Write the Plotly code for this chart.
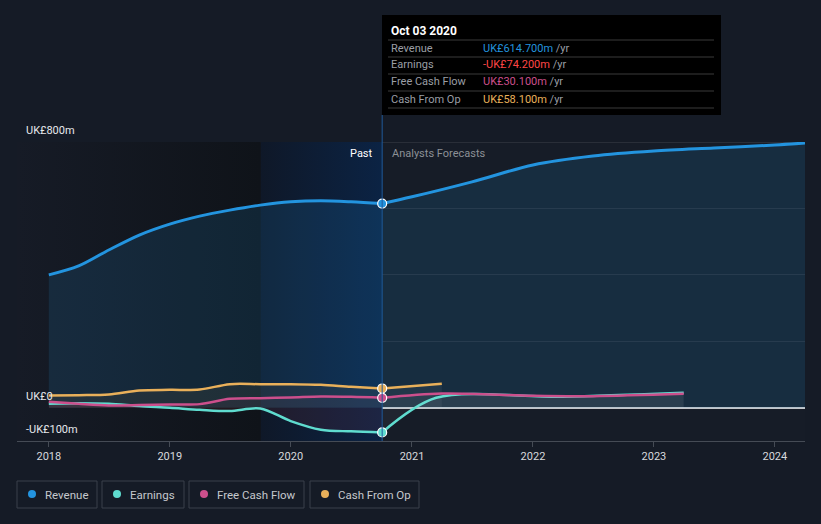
import plotly.graph_objects as go

# ---------------- data ----------------
rev_past_dates = ["2018-01-01", "2018-04-01", "2018-07-01", "2018-10-01", "2019-01-01", "2019-04-01",
                  "2019-07-01", "2019-10-01", "2020-01-01", "2020-04-01", "2020-07-01", "2020-10-03"]
rev_past = [400, 427, 475, 520, 553, 577, 595, 610, 620, 623, 620, 614.7]
rev_fc_dates = ["2020-10-03", "2021-01-01", "2021-07-01", "2022-01-01", "2022-07-01", "2023-01-01",
                "2023-07-01", "2024-01-01", "2024-04-01"]
rev_fc = [614.7, 635, 680, 731, 758, 773, 782, 791, 797]

earn_past_dates = rev_past_dates
earn_past = [12, 14, 12, 5, 0, -6, -10, -2, -40, -66, -71, -74.2]
earn_fc_dates = ["2020-10-03", "2021-03-15", "2022-04-01", "2023-04-01"]
earn_fc = [-74.2, 30, 33, 45]

fcf_past_dates = rev_past_dates
fcf_past = [18, 12, 7, 8, 10, 11, 27, 29, 31, 34, 33, 30.1]
fcf_fc_dates = ["2020-10-03", "2021-04-01", "2022-01-01", "2022-07-01", "2023-04-01"]
fcf_fc = [30.1, 43, 36, 35, 42]

cfo_past_dates = rev_past_dates
cfo_past = [37, 38, 40, 52, 54, 55, 71, 71, 71, 69, 63, 58.1]
cfo_fc_dates = ["2020-10-03", "2021-04-01"]
cfo_fc = [58.1, 72]

hover_date = "2020-10-03"
tooltip_title = "Oct 03 2020"
tooltip_rows = [("Revenue", "UK£614.700m"), ("Earnings", "-UK£74.200m"),
                ("Free Cash Flow", "UK£30.100m"), ("Cash From Op", "UK£58.100m")]
legend_names = ["Revenue", "Earnings", "Free Cash Flow", "Cash From Op"]
y_labels = [(800, "UK£800m"), (0, "UK£0"), (-100, "-UK£100m")]
year_ticks = ["2018-01-01", "2019-01-01", "2020-01-01", "2021-01-01", "2022-01-01", "2023-01-01", "2024-01-01"]
year_labels = ["2018", "2019", "2020", "2021", "2022", "2023", "2024"]

# ---------------- style ----------------
BG = "#151b26"
C_REV = "#2394df"
C_EARN = "#5fdccf"
C_FCF = "#cc4f8c"
C_CFO = "#e9b05a"
C_EARN_TXT = "#ff4646"
FONT = "Roboto"

X0, X1 = "2017-09-27", "2024-04-01"
Y0, Y1 = -100, 800

# pixel -> paper helpers for decorations
PL, PR, PT, PB = 17, 805, 142, 441
def px(x):
    return (x - PL) / (PR - PL)
def py(y):
    return (PB - y) / (PB - PT)

fig = go.Figure()

# background regions (gradients)
fig.add_trace(go.Scatter(x=[X0, "2019-10-03", "2019-10-03", X0, X0], y=[Y0, Y0, Y1, Y1, Y0],
                         fill="toself", mode="none", hoverinfo="skip", showlegend=False,
                         fillgradient=dict(type="horizontal", colorscale=[[0, "#161b26"], [1, "#0f1319"]])))
fig.add_trace(go.Scatter(x=["2019-10-03", hover_date, hover_date, "2019-10-03", "2019-10-03"],
                         y=[Y0, Y0, Y1, Y1, Y0],
                         fill="toself", mode="none", hoverinfo="skip", showlegend=False,
                         fillgradient=dict(type="horizontal", colorscale=[[0, "#0f1828"], [1, "#0b2344"]])))

def line(x, y, color, fillcolor, width=2.5):
    fig.add_trace(go.Scatter(x=x, y=y, mode="lines", line=dict(color=color, width=width, shape="spline", smoothing=0.9),
                             fill="tozeroy", fillcolor=fillcolor, hoverinfo="skip", showlegend=False))

line(rev_past_dates, rev_past, C_REV, "rgba(35,148,223,0.14)", 3)
line(rev_fc_dates, rev_fc, C_REV, "rgba(35,148,223,0.14)", 3)
line(cfo_past_dates, cfo_past, C_CFO, "rgba(233,176,90,0.07)")
line(cfo_fc_dates, cfo_fc, C_CFO, "rgba(255,255,255,0.05)")
line(earn_past_dates, earn_past, C_EARN, "rgba(200,60,70,0.10)")
line(earn_fc_dates, earn_fc, C_EARN, "rgba(255,255,255,0.045)")
line(fcf_past_dates, fcf_past, C_FCF, "rgba(204,79,140,0.05)")
line(fcf_fc_dates, fcf_fc, C_FCF, "rgba(255,255,255,0.045)")

# hover markers
for vals, col in [(rev_past, C_REV), (cfo_past, C_CFO), (fcf_past, C_FCF), (earn_past, C_EARN)]:
    fig.add_trace(go.Scatter(x=[hover_date], y=[vals[-1]], mode="markers",
                             marker=dict(size=9, color=col, line=dict(color="#ffffff", width=1.2)),
                             hoverinfo="skip", showlegend=False))

shapes = []
annotations = []

# top gridline
shapes.append(dict(type="line", xref="paper", yref="y", x0=0, x1=1, y0=800, y1=800,
                   line=dict(color="#3c414a", width=1), layer="below"))
# hover vertical line
shapes.append(dict(type="line", xref="x", yref="paper", x0=hover_date, x1=hover_date, y0=0, y1=py(115),
                   line=dict(color="#1f5a99", width=1)))
# tooltip box
shapes.append(dict(type="rect", xref="paper", yref="paper", x0=px(382), x1=px(721), y0=py(115), y1=py(15),
                   fillcolor="#000000", line=dict(width=0)))
for yy in [40, 57, 74, 91, 108]:
    shapes.append(dict(type="line", xref="paper", yref="paper", x0=px(388), x1=px(714), y0=py(yy), y1=py(yy),
                       line=dict(color="#3a3a3a", width=1)))
annotations.append(dict(xref="paper", yref="paper", x=px(389), y=py(31), xanchor="left", yanchor="middle",
                        text="<b>" + tooltip_title + "</b>", showarrow=False,
                        font=dict(family=FONT, size=12, color="#ffffff")))
val_colors = [C_REV, C_EARN_TXT, C_FCF, C_CFO]
for i, (lab, val) in enumerate(tooltip_rows):
    yy = 48 + 17 * i
    annotations.append(dict(xref="paper", yref="paper", x=px(389), y=py(yy), xanchor="left", yanchor="middle",
                            text=lab, showarrow=False, font=dict(family=FONT, size=11, color="#9a9ea5")))
    annotations.append(dict(xref="paper", yref="paper", x=px(481), y=py(yy), xanchor="left", yanchor="middle",
                            text="<span style='color:%s'>%s</span> /yr" % (val_colors[i], val), showarrow=False,
                            font=dict(family=FONT, size=11, color="#9a9ea5")))

# Past / Analysts Forecasts
annotations.append(dict(xref="paper", yref="paper", x=px(375), y=py(153), xanchor="right", yanchor="middle",
                        text="Past", showarrow=False, font=dict(family=FONT, size=11, color="#ffffff")))
annotations.append(dict(xref="paper", yref="paper", x=px(390), y=py(153), xanchor="left", yanchor="middle",
                        text="Analysts Forecasts", showarrow=False, font=dict(family=FONT, size=11, color="#8c9096")))

# y labels
for val, txt in y_labels:
    annotations.append(dict(xref="paper", yref="y", x=px(24), y=val, xanchor="left", yanchor="bottom",
                            yshift=3, text=txt, showarrow=False, font=dict(family=FONT, size=11, color="#e6e8eb")))

# legend
leg_boxes = [(17, 97), (102, 184), (189, 304), (310, 419)]
leg_cols = [C_REV, C_EARN, C_FCF, C_CFO]
for (a, b), name, col in zip(leg_boxes, legend_names, leg_cols):
    shapes.append(dict(type="rect", xref="paper", yref="paper", x0=px(a), x1=px(b), y0=py(508), y1=py(481),
                       line=dict(color="#3a404a", width=1), fillcolor="rgba(0,0,0,0)"))
    shapes.append(dict(type="circle", xref="paper", yref="paper", x0=px(a + 11), x1=px(a + 19),
                       y0=py(498), y1=py(490), fillcolor=col, line=dict(width=0)))
    annotations.append(dict(xref="paper", yref="paper", x=px(a + 26), y=py(494.5), xanchor="left", yanchor="middle",
                            text=name, showarrow=False, font=dict(family=FONT, size=11.5, color="#c5c8cd")))

fig.update_layout(
    width=821, height=524,
    margin=dict(l=PL, r=821 - PR, t=PT, b=524 - PB),
    paper_bgcolor=BG, plot_bgcolor="#161c27",
    font=dict(family=FONT, color="#d0d2d6", size=11),
    showlegend=False,
    shapes=shapes, annotations=annotations,
    xaxis=dict(type="date", range=[X0, X1], tickvals=year_ticks, ticktext=year_labels,
               showgrid=False, zeroline=False, showline=True, linecolor="#454b55", linewidth=1,
               ticks="outside", ticklen=5, tickcolor="#454b55", tickfont=dict(size=11, color="#d7d9dd")),
    yaxis=dict(range=[Y0, Y1], tickvals=[0, 200, 400, 600], showticklabels=False,
               showgrid=True, gridcolor="rgba(255,255,255,0.08)", gridwidth=1,
               zeroline=True, zerolinecolor="#c4c6ca", zerolinewidth=2, showline=False, fixedrange=True),
)

fig.write_html("out.html", config={"displayModeBar": False},
               post_script="document.body.style.margin='0';document.body.style.background='%s';document.body.style.overflow='hidden';" % BG)
